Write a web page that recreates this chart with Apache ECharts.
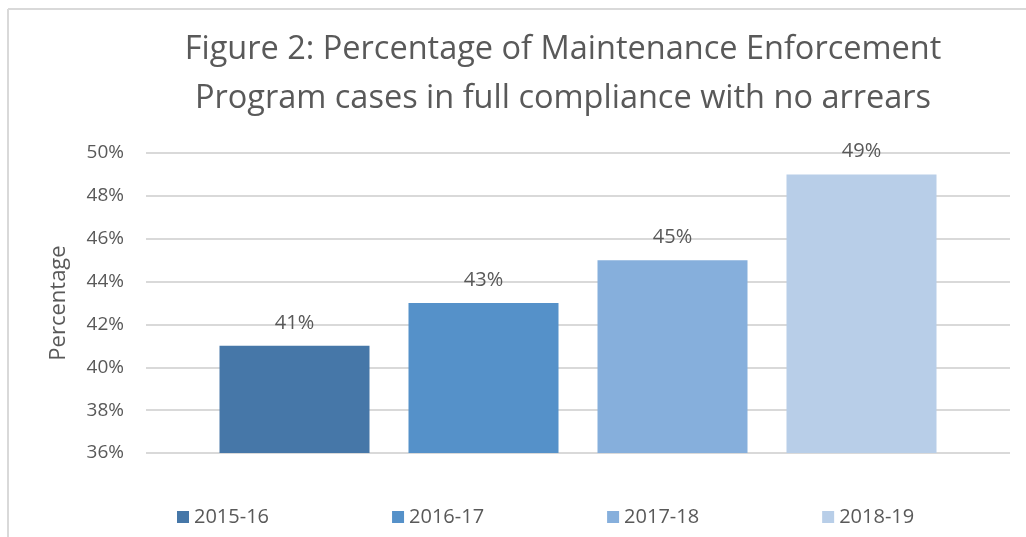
<!DOCTYPE html>
<html>
<head>
<meta charset="utf-8">
<script src="https://cdn.jsdelivr.net/npm/echarts@6/dist/echarts.min.js"></script>
<style>
  html, body { margin: 0; padding: 0; background: #fff; }
  #chart { width: 1026px; height: 537px; }
</style>
</head>
<body>
<div id="chart"></div>
<script>
var years = ['2015-16', '2016-17', '2017-18', '2018-19'];
var values = [41, 43, 45, 49];
var colors = ['#4677a8', '#5591c9', '#86afdc', '#b8cee8'];
var yTicks = { min: 36, max: 50, interval: 2 };

var chart = echarts.init(document.getElementById('chart'));
var textColor = '#595959';
var font = '"Open Sans", sans-serif';

var series = years.map(function (y, i) {
	return {
		name: y,
		type: 'bar',
		data: [values[i]],
		barWidth: 150,
		barGap: '26%',
		itemStyle: { color: colors[i] },
		label: {
			show: true,
			position: 'top',
			distance: 13,
			formatter: '{c}%',
			color: textColor,
			fontSize: 20,
			fontFamily: font
		}
	};
});

var option = {
	backgroundColor: '#fff',
	animation: false,
	title: {
		text: 'Figure 2: Percentage of Maintenance Enforcement\nProgram cases in full compliance with no arrears',
		left: 558,
		textAlign: 'center',
		top: 20,
		textStyle: {
			color: textColor,
			fontSize: 32.5,
			fontWeight: 'normal',
			fontFamily: font,
			lineHeight: 49
		}
	},
	legend: {
		bottom: 5,
		left: 172,
		itemWidth: 12,
		itemHeight: 12,
		itemGap: 123,
		icon: 'rect',
		textStyle: { color: textColor, fontSize: 20, fontFamily: font },
		data: years
	},
	grid: { left: 146, right: 16, top: 153, bottom: 84 },
	xAxis: {
		type: 'category',
		data: [''],
		axisLine: { show: false },
		axisTick: { show: false },
		axisLabel: { show: false }
	},
	yAxis: {
		type: 'value',
		min: yTicks.min,
		max: yTicks.max,
		interval: yTicks.interval,
		name: 'Percentage',
		nameLocation: 'middle',
		nameGap: 76,
		nameTextStyle: { color: textColor, fontSize: 22, fontFamily: font },
		axisLine: { show: false },
		axisTick: { show: false },
		axisLabel: {
			formatter: '{value}%',
			color: textColor,
			fontSize: 19,
			fontFamily: font,
			margin: 22
		},
		splitLine: { lineStyle: { color: '#d9d9d9', width: 2 } }
	},
	graphic: [
		{ type: 'line', shape: { x1: 8, y1: 9, x2: 1026, y2: 9 }, style: { stroke: '#d9d9d9', lineWidth: 2 } },
		{ type: 'line', shape: { x1: 8, y1: 9, x2: 8, y2: 537 }, style: { stroke: '#d9d9d9', lineWidth: 2 } }
	],
	series: series
};
chart.setOption(option);
</script>
</body>
</html>
